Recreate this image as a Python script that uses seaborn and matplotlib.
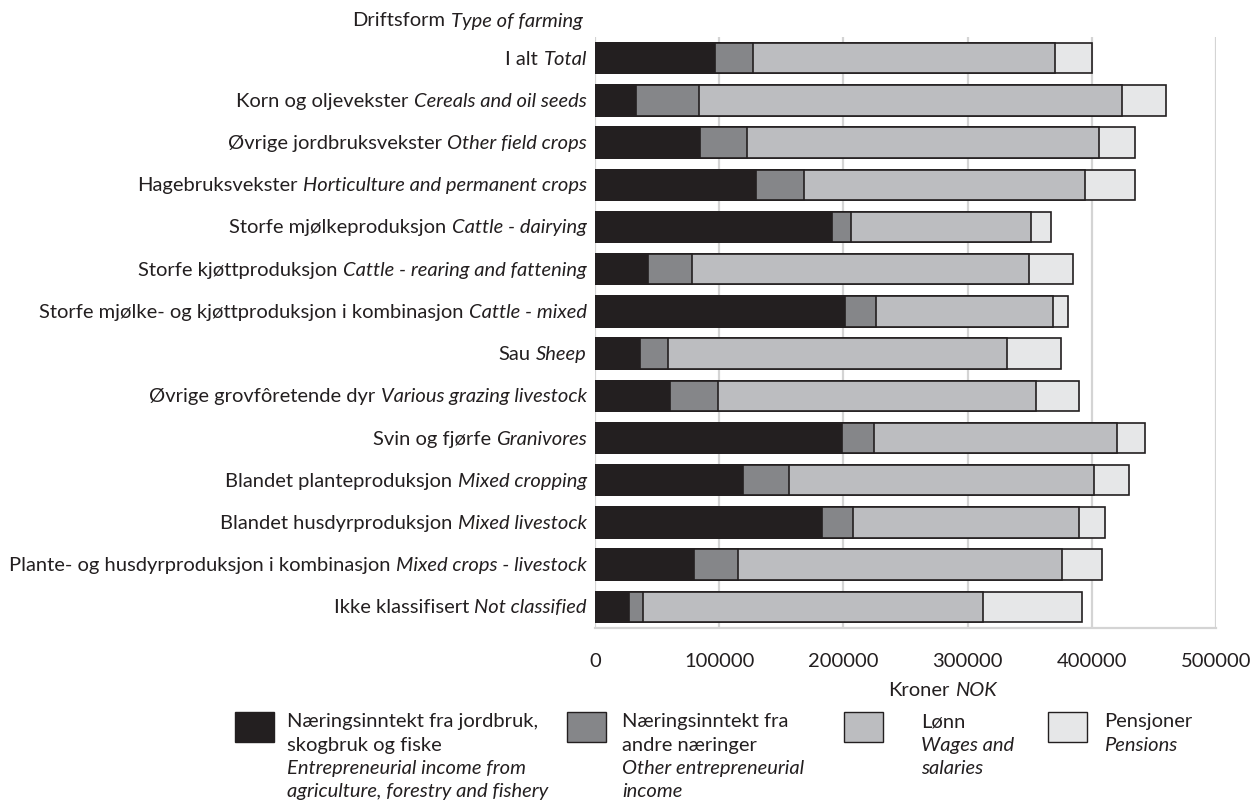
import seaborn as sns
import matplotlib.pyplot as plt
import numpy as np
import pandas as pd
from matplotlib.patches import Rectangle

# Data lest av figuren (kroner)
kategorier_no = [
    "I alt", "Korn og oljevekster", "Øvrige jordbruksvekster", "Hagebruksvekster",
    "Storfe mjølkeproduksjon", "Storfe kjøttproduksjon",
    "Storfe mjølke- og kjøttproduksjon i kombinasjon", "Sau",
    "Øvrige grovfôretende dyr", "Svin og fjørfe", "Blandet planteproduksjon",
    "Blandet husdyrproduksjon", "Plante- og husdyrproduksjon i kombinasjon",
    "Ikke klassifisert",
]
kategorier_en = [
    "Total", "Cereals and oil seeds", "Other field crops",
    "Horticulture and permanent crops", "Cattle - dairying",
    "Cattle - rearing and fattening", "Cattle - mixed", "Sheep",
    "Various grazing livestock", "Granivores", "Mixed cropping",
    "Mixed livestock", "Mixed crops - livestock", "Not classified",
]
jordbruk = [97000, 33000, 84500, 129500, 190500, 43000, 201000, 36000, 60000, 198500, 119500, 183000, 80000, 27000]
andre = [30500, 51000, 37500, 39000, 15500, 35500, 25500, 23000, 39000, 26000, 37000, 25000, 35000, 11500]
lonn = [242500, 340000, 283500, 226000, 145000, 271000, 142500, 273000, 256000, 196000, 245000, 182000, 261000, 274000]
pensjon = [30500, 36000, 29000, 40000, 16000, 35500, 12000, 43500, 35000, 22000, 28500, 21000, 32500, 80000]

serier_no = ["Næringsinntekt fra jordbruk,\nskogbruk og fiske", "Næringsinntekt fra\nandre næringer", "Lønn", "Pensjoner"]
serier_en = ["Entrepreneurial income from\nagriculture, forestry and fishery", "Other entrepreneurial\nincome", "Wages and\nsalaries", "Pensions"]
farger = ["#231f20", "#858689", "#bcbdc0", "#e6e7e8"]

sns.set_style("white")
plt.rcParams['font.family'] = ['Lato', 'DejaVu Sans']
plt.rcParams['font.size'] = 14.5

df = pd.DataFrame({'kat': kategorier_no, 'jordbruk': jordbruk, 'andre': andre,
                   'lonn': lonn, 'pensjon': pensjon})
# kumulative summer for stablede søyler
df['c1'] = df['jordbruk']
df['c2'] = df['c1'] + df['andre']
df['c3'] = df['c2'] + df['lonn']
df['c4'] = df['c3'] + df['pensjon']

fig = plt.figure(figsize=(12.53, 8.03), dpi=100)
ax = fig.add_axes([595 / 1253, 1 - 629 / 803, 621 / 1253, 591 / 803])

# tegn største sum først, så de mindre oppå
for col, farge in reversed(list(zip(['c1', 'c2', 'c3', 'c4'], farger))):
    sns.barplot(data=df, x=col, y='kat', color=farge, saturation=1,
                edgecolor='#231f20', linewidth=1.2, width=0.72, orient='h', ax=ax)

ax.set_xlim(0, 500000)
ax.set_xticks([0, 100000, 200000, 300000, 400000, 500000])
ax.set_xticklabels(["0", "100000", "200000", "300000", "400000", "500000"])
ax.grid(axis='x', color='#d4d4d4', linewidth=1.6)
ax.set_axisbelow(True)
for s in ['top', 'right', 'left']:
    ax.spines[s].set_visible(False)
ax.spines['bottom'].set_color('#d4d4d4')
ax.spines['bottom'].set_linewidth(1.6)
ax.tick_params(axis='x', length=0, pad=17, colors='#231f20', labelsize=14.5)
ax.tick_params(axis='y', length=0)
ax.set_yticklabels([])
ax.set_xlabel("")
ax.set_ylabel("")

# kategorietiketter: norsk + kursiv engelsk
for i, (no, en) in enumerate(zip(kategorier_no, kategorier_en)):
    t = ax.text(-8 / 621, i, en, transform=ax.get_yaxis_transform(), ha='right',
                va='center', style='italic', color='#231f20')
    ax.annotate(no, xy=(0, 0.5), xycoords=t, xytext=(-4, 0), textcoords='offset points',
                ha='right', va='center', color='#231f20')

# aksetitler
t = fig.text(583 / 1253, 1 - 21 / 803, "Type of farming", ha='right', va='center',
             style='italic', color='#231f20')
ax.annotate("Driftsform", xy=(0, 0.5), xycoords=t, xytext=(-4, 0),
            textcoords='offset points', ha='right', va='center', color='#231f20')

t = fig.text(888 / 1253, 1 - 691 / 803, "Kroner", ha='left', va='center', color='#231f20')
ax.annotate("NOK", xy=(1, 0.5), xycoords=t, xytext=(4, 0), textcoords='offset points',
            ha='left', va='center', style='italic', color='#231f20')

# egen forklaring nederst
patch_x = [235, 567, 844, 1048]
tekst_x = [287, 622, 921, 1104]
for k in range(4):
    fig.add_artist(Rectangle((patch_x[k] / 1253, 1 - 743 / 803), 39 / 1253, 30 / 803,
                             transform=fig.transFigure, facecolor=farger[k],
                             edgecolor='#231f20', linewidth=1.0))
    linjer = [(l, 'normal') for l in serier_no[k].split('\n')] + \
             [(l, 'italic') for l in serier_en[k].split('\n')]
    for j, (linje, stil) in enumerate(linjer):
        fig.text(tekst_x[k] / 1253, 1 - (722 + 23.3 * j) / 803, linje, ha='left',
                 va='center', style=stil, color='#231f20')

fig.savefig("out.png", dpi=100)
